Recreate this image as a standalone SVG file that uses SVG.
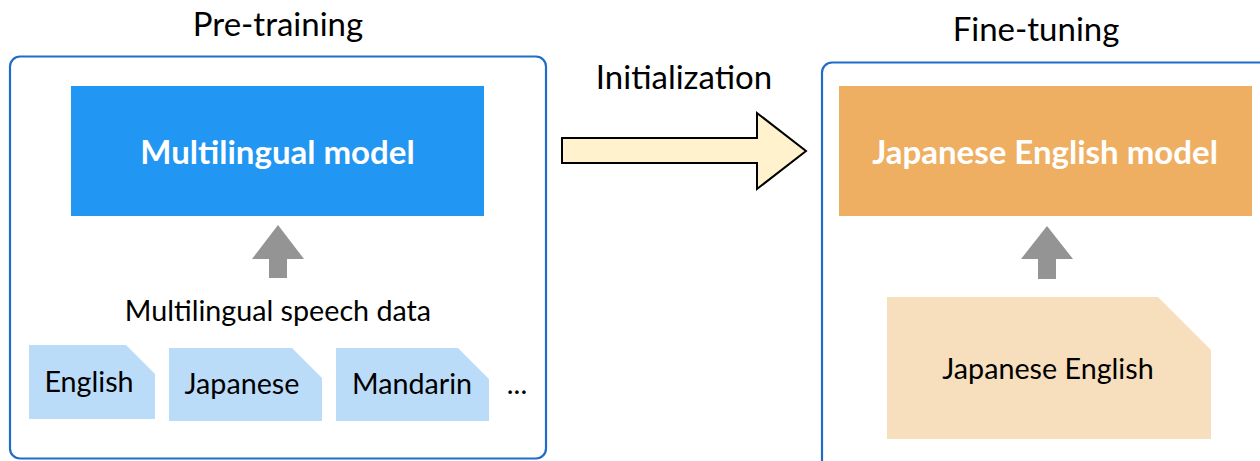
<svg xmlns="http://www.w3.org/2000/svg" width="1260" height="461" viewBox="0 0 1260 461">
  <defs>
    <style>
      text { font-family: Lato, "Noto Sans", "Liberation Sans", sans-serif; text-anchor: middle; }
      .frame { fill: #ffffff; stroke: #1f6cc9; stroke-width: 2.2; }
      .title { font-size: 33px; fill: #000000; }
      .model-text { font-size: 33px; font-weight: bold; fill: #ffffff; }
      .label { font-size: 28.7px; fill: #000000; }
      .up { fill: #949494; }
      .doc-blue { fill: #bbdcf9; }
      .doc-orange { fill: #f7dfbd; }
    </style>
  </defs>

  <!-- Pre-training stage -->
  <g id="pretraining">
    <text class="title" x="278" y="36">Pre-training</text>
    <rect class="frame" x="10" y="56.5" width="536" height="402" rx="10"/>
  </g>

  <g id="multilingual-model">
    <rect x="71" y="86" width="413" height="130" fill="#2196f3"/>
    <text class="model-text" x="277.5" y="164">Multilingual model</text>
  </g>

  <g id="speech-data-label">
    <text class="label" x="278" y="321">Multilingual speech data</text>
  </g>

  <g id="doc-english">
    <path class="doc-blue" d="M29 345 H126 L155 374 V419 H29 Z"/>
    <text class="label" x="89" y="392">English</text>
  </g>
  <g id="doc-japanese">
    <path class="doc-blue" d="M169 348 H292 L322 378 V421 H169 Z"/>
    <text class="label" x="242" y="394">Japanese</text>
  </g>
  <g id="doc-mandarin">
    <path class="doc-blue" d="M336 348 H458 L489 379 V421 H336 Z"/>
    <text class="label" x="412" y="394">Mandarin</text>
  </g>
  <g id="ellipsis">
    <text class="label" x="517" y="394">...</text>
  </g>

  <!-- Fine-tuning stage -->
  <g id="finetuning">
    <text class="title" x="1036" y="41">Fine-tuning</text>
    <rect class="frame" x="822" y="62.5" width="460" height="420" rx="10"/>
  </g>

  <g id="japanese-english-model">
    <rect x="839" y="86" width="413" height="130" fill="#efaf63"/>
    <text class="model-text" x="1045" y="164">Japanese English model</text>
  </g>

  <g id="doc-japanese-english">
    <path class="doc-orange" d="M887 297 H1158 L1211 350 V439 H887 Z"/>
    <text class="label" x="1048" y="379">Japanese English</text>
  </g>

  <!-- Connectors -->
  <g id="connectors">
    <path class="up" d="M278 225 L304 259 H287 V278 H269 V259 H252 Z"/>
    <path class="up" d="M1047 226 L1073 259 H1056 V279 H1038 V259 H1021 Z"/>
    <path d="M562 138 H757 V113 L806 151 L757 189 V163 H562 Z" fill="#fff2cc" stroke="#000000" stroke-width="2" stroke-linejoin="miter"/>
    <text class="title" x="684" y="89">Initialization</text>
  </g>
</svg>
